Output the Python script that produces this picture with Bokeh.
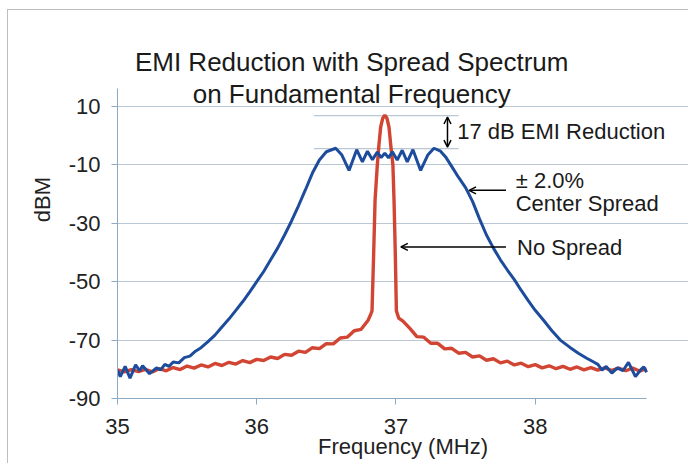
from bokeh.plotting import figure
from bokeh.models import Range1d, Label, Arrow, OpenHead, FixedTicker
from bokeh.embed import file_html
from bokeh.resources import INLINE

# ---------------- data ----------------
# Spread spectrum (blue) trace
spread_freq = [35.00, 35.02, 35.055, 35.09, 35.13, 35.16, 35.18, 35.23, 35.28, 35.31, 35.34, 35.37,
               35.40, 35.44, 35.48, 35.52, 35.56, 35.60, 35.65, 35.70, 35.75, 35.80, 35.85, 35.90,
               35.95, 36.00, 36.05, 36.10, 36.15, 36.20, 36.25, 36.30, 36.35, 36.40, 36.45, 36.50,
               36.567, 36.61, 36.663, 36.718, 36.759, 36.795, 36.831, 36.866, 36.893, 36.92, 36.947,
               36.974, 37.009, 37.045, 37.081, 37.122, 37.177, 37.23, 37.273, 37.32, 37.36, 37.40,
               37.45, 37.50, 37.55, 37.60, 37.65, 37.70, 37.75, 37.80, 37.85, 37.90, 37.95, 38.00,
               38.06, 38.12, 38.18, 38.25, 38.31, 38.37, 38.42, 38.45, 38.48, 38.51, 38.55, 38.59,
               38.63, 38.67, 38.72, 38.76, 38.78, 38.80]
spread_dbm = [-80.3, -82.5, -79.0, -83.0, -78.5, -80.5, -78.8, -81.5, -79.5, -80.2, -78.3, -79.0,
              -77.5, -77.8, -76.0, -75.5, -73.8, -72.6, -70.5, -68.3, -65.5, -62.8, -59.8, -56.8,
              -53.5, -50.0, -46.5, -42.5, -38.5, -34.0, -29.2, -24.0, -18.5, -12.8, -8.3, -5.5,
              -4.3, -6.5, -11.9, -4.8, -9.0, -5.3, -8.2, -5.6, -7.5, -6.0, -7.6,
              -5.5, -8.3, -5.0, -9.0, -4.8, -11.9, -6.5, -4.3, -5.3, -7.5, -10.5,
              -14.3, -17.8, -22.5, -28.5, -34.0, -38.5, -42.5, -46.0, -49.3, -53.0, -56.5, -59.8,
              -63.2, -66.8, -70.0, -72.5, -74.5, -76.2, -77.5, -78.3, -80.3, -79.0, -81.3, -79.5,
              -80.5, -77.6, -82.5, -80.0, -79.2, -81.0]

# No spread (red) trace
nospread_freq = [35.00, 35.05, 35.10, 35.15, 35.20, 35.25, 35.30, 35.35, 35.40, 35.45, 35.50, 35.55,
                 35.60, 35.65, 35.70, 35.75, 35.80, 35.85, 35.90, 35.95, 36.00, 36.05, 36.10, 36.15,
                 36.20, 36.25, 36.30, 36.35, 36.40, 36.45, 36.50, 36.55, 36.60, 36.65, 36.70, 36.75,
                 36.80, 36.82, 36.828, 36.84, 36.85, 36.866, 36.878, 36.89, 36.905, 36.92, 36.935,
                 36.95, 36.962, 36.978, 36.986, 36.995, 37.003, 37.02, 37.05, 37.10, 37.15, 37.20,
                 37.25, 37.30, 37.35, 37.40, 37.45, 37.50, 37.55, 37.60, 37.65, 37.70, 37.75, 37.80,
                 37.85, 37.90, 37.95, 38.00, 38.05, 38.10, 38.15, 38.20, 38.25, 38.30, 38.35, 38.40,
                 38.45, 38.50, 38.55, 38.60, 38.65, 38.70, 38.75, 38.80]
nospread_dbm = [-80.2, -80.9, -80.1, -80.8, -80.0, -80.9, -79.8, -80.5, -79.4, -80.1, -78.9, -79.6,
                -78.5, -79.2, -78.0, -78.7, -77.6, -78.2, -77.0, -77.7, -76.6, -77.0, -75.8, -76.3,
                -74.9, -75.2, -73.8, -74.2, -72.6, -72.9, -71.2, -71.3, -69.3, -69.0, -66.8, -66.3,
                -63.2, -61.0, -60.0, -40.0, -22.0, -10.0, -3.0, 2.9, 6.0, 7.0, 6.0,
                2.9, -3.0, -10.0, -22.0, -40.0, -60.0, -62.5, -63.5, -66.0, -68.8, -69.0,
                -71.1, -71.1, -73.0, -72.8, -74.5, -74.2, -75.8, -75.4, -76.9, -76.4, -77.8, -77.2,
                -78.5, -77.9, -79.1, -78.4, -79.5, -78.8, -79.8, -79.0, -80.0, -79.2, -80.2, -79.4,
                -80.3, -79.5, -80.4, -79.6, -80.5, -79.6, -80.6, -79.8]

x_ticks = [35, 36, 37, 38]
y_ticks = [10, -10, -30, -50, -70, -90]
y_tick_labels = ["10", "-10", "-30", "-50", "-70", "-90"]
x_bounds = (35, 38.8)
y_bounds = (-90, 16.2)

FONT = "Liberation Sans"
GRID = "#b9c8d4"
AXIS = "#8eaac0"

p = figure(width=688, height=463, x_range=Range1d(35, 39.101), y_range=Range1d(-90, 46.3),
           output_backend="svg", toolbar_location=None,
           min_border_left=117, min_border_right=0, min_border_top=0, min_border_bottom=65)
p.background_fill_color = None
p.border_fill_color = None
p.outline_line_color = None
p.styles = {"background": "linear-gradient(#bdbdbd,#bdbdbd) 7px 9px / 1px 100% no-repeat, "
                          "linear-gradient(#bdbdbd,#bdbdbd) 7px 9px / 100% 1px no-repeat, #ffffff"}

p.xaxis.ticker = FixedTicker(ticks=x_ticks)
p.yaxis.ticker = FixedTicker(ticks=y_ticks)
p.yaxis.major_label_overrides = {t: s for t, s in zip(y_ticks, y_tick_labels)}
p.xaxis.bounds = x_bounds
p.yaxis.bounds = y_bounds
p.xgrid.visible = False
p.ygrid.ticker = FixedTicker(ticks=y_ticks)
p.ygrid.bounds = x_bounds
p.ygrid.grid_line_color = GRID
p.ygrid.grid_line_width = 1

for ax in (p.xaxis[0], p.yaxis[0]):
    ax.axis_line_color = AXIS
    ax.major_tick_line_color = AXIS
    ax.major_tick_out = 6
    ax.major_tick_in = 0
    ax.minor_tick_line_color = None
    ax.major_label_text_font = FONT
    ax.major_label_text_font_size = "22px"
    ax.major_label_text_color = "#222222"
    ax.axis_label_text_font = FONT
    ax.axis_label_text_font_size = "22px"
    ax.axis_label_text_font_style = "normal"
    ax.axis_label_text_color = "#222222"

p.xaxis.axis_label = "Frequency (MHz)"
p.xaxis.major_label_standoff = 14
p.xaxis.axis_label_standoff = -3
p.yaxis.axis_label = "dBM"
p.yaxis.major_label_standoff = 11
p.yaxis.axis_label_standoff = 11

# reference lines for EMI reduction
ref_x0, ref_x1 = 36.41, 37.45
for lvl in (6.9, -4.4):
    p.segment(x0=ref_x0, y0=lvl, x1=ref_x1, y1=lvl, line_color=GRID, line_width=1.2)

# traces
p.line(nospread_freq, nospread_dbm, line_color="#cf3b27", line_width=3.4, line_alpha=0.95)
p.line(spread_freq, spread_dbm, line_color="#1c4c9b", line_width=3)

# annotations
p.add_layout(Arrow(start=OpenHead(size=7, line_width=1.5), end=OpenHead(size=7, line_width=1.5),
                   x_start=37.37, y_start=6.4, x_end=37.37, y_end=-3.9, line_width=1.5))
p.add_layout(Arrow(end=OpenHead(size=7, line_width=1.5), x_start=37.79, y_start=-18.7,
                   x_end=37.525, y_end=-18.7, line_width=1.5))
p.add_layout(Arrow(end=OpenHead(size=7, line_width=1.5), x_start=37.79, y_start=-38.1,
                   x_end=37.035, y_end=-38.1, line_width=1.5))

def txt(x, y, s, size="22px", align="left", baseline="middle"):
    p.add_layout(Label(x=x, y=y, text=s, text_font=FONT, text_font_size=size,
                       text_baseline=baseline, text_align=align, text_color="#1a1a1a"))

txt(37.44, 1.4, "17 dB EMI Reduction")
txt(37.86, -15.3, "\u00b1 2.0%")
txt(37.86, -23.2, "Center Spread")
txt(37.87, -38.3, "No Spread")
txt(36.682, 25.1, "EMI Reduction with Spread Spectrum", size="26px", align="center", baseline="alphabetic")
txt(36.682, 14.4, "on Fundamental Frequency", size="26px", align="center", baseline="alphabetic")

open("out.html", "w").write(file_html(p, INLINE))
